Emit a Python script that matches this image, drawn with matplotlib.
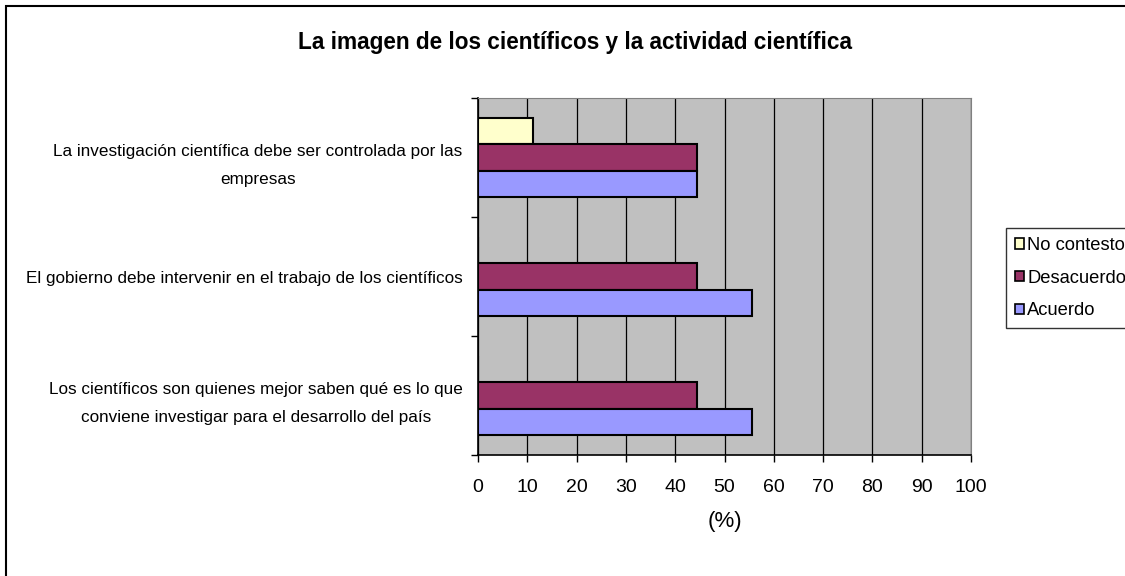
import matplotlib
matplotlib.use("Agg")
import matplotlib.pyplot as plt
import numpy as np
from matplotlib.patches import Rectangle

categories = [
    "Los científicos son quienes mejor saben qué es lo que\nconviene investigar para el desarrollo del país",
    "El gobierno debe intervenir en el trabajo de los científicos",
    "La investigación científica debe ser controlada por las\nempresas",
]
series_names = ["No contesto", "Desacuerdo", "Acuerdo"]
no_contesto = [0.0, 0.0, 11.1]
desacuerdo = [44.4, 44.4, 44.4]
acuerdo = [55.6, 55.6, 44.4]
xticks = [0, 10, 20, 30, 40, 50, 60, 70, 80, 90, 100]
title = "La imagen de los científicos y la actividad científica"
xlabel = "(%)"

colors = {"No contesto": "#FFFFCC", "Desacuerdo": "#993366", "Acuerdo": "#9999FF"}

plt.rcParams['font.family'] = ['Liberation Sans', 'DejaVu Sans']

W, H = 1125, 576
fig = plt.figure(figsize=(W / 100, H / 100), dpi=100)

# outer chart border (only top/left visible in the crop)
fig.patches.append(Rectangle((6 / W, -0.05), 1.2, 1 - 6 / H + 0.05, transform=fig.transFigure,
                             fill=False, edgecolor='black', linewidth=1.5, zorder=0))

ax = fig.add_axes([478 / W, 1 - 455 / H, (971 - 478) / W, (455 - 98) / H])
ax.set_facecolor('#C0C0C0')

y = np.arange(len(categories))
bh = 1 / 4.5
offsets = {"Acuerdo": -bh, "Desacuerdo": 0.0, "No contesto": bh}
data = {"No contesto": no_contesto, "Desacuerdo": desacuerdo, "Acuerdo": acuerdo}
handles = []
for name in series_names:
    vals = data[name]
    b = ax.barh(y + offsets[name], vals, height=bh, color=colors[name],
                edgecolor='black', linewidth=1.5, zorder=3, label=name)
    handles.append(b)

ax.set_xlim(0, 100)
ax.set_ylim(-0.5, len(categories) - 0.5)
ax.set_xticks(xticks)
ax.set_xticklabels([str(t) for t in xticks], fontsize=14)
ax.xaxis.grid(True, color='black', linewidth=0.9, zorder=1)
ax.set_axisbelow(True)

ax.set_yticks(np.arange(len(categories) + 1) - 0.5)
ax.set_yticklabels([])
ax.set_yticks(y, minor=True)
ax.set_yticklabels(categories, minor=True, fontsize=12.3, multialignment='center',
                   linespacing=2.05)
ax.tick_params(axis='y', which='minor', length=0, pad=11)
ax.tick_params(axis='y', which='major', length=5, width=1, direction='out')
ax.tick_params(axis='x', which='major', length=5, width=1, direction='out', pad=12)

for s in ['top', 'right']:
    ax.spines[s].set_color('#808080')
for s in ['left', 'bottom']:
    ax.spines[s].set_color('black')
    ax.spines[s].set_linewidth(1.2)

ax.set_xlabel(xlabel, fontsize=16, labelpad=11)

fig.text(575 / W, 1 - 43 / H, title, ha='center', va='center', fontsize=16.3, fontweight='bold')

leg = fig.legend(handles=handles, labels=series_names, loc='upper left',
                 bbox_to_anchor=(1006 / W, 1 - 228 / H), frameon=True, fancybox=False,
                 fontsize=13.2, handlelength=0.5, handleheight=0.5, handletextpad=0.15,
                 borderpad=0.5, labelspacing=0.85, borderaxespad=0)
leg.get_frame().set_edgecolor('black')
leg.get_frame().set_linewidth(1)
for h in leg.legend_handles:
    h.set_linewidth(1.2)

fig.savefig('out.png', dpi=100)
